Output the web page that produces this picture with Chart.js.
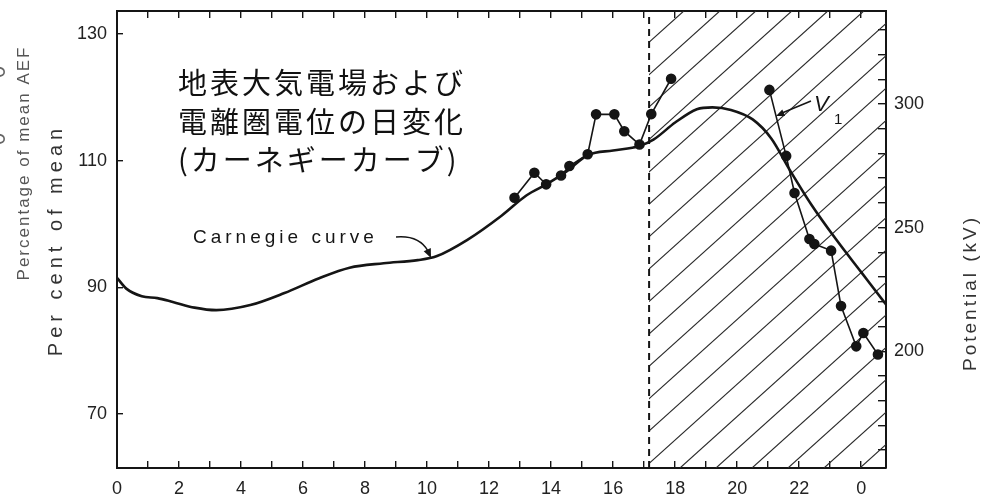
<!DOCTYPE html>
<html>
<head>
<meta charset="utf-8">
<script src="https://cdn.jsdelivr.net/npm/chart.js@4.4.1/dist/chart.umd.min.js"></script>
<style>
  html, body { margin: 0; padding: 0; background: #fff; }
</style>
</head>
<body>
<canvas id="chart" width="983" height="499"></canvas>
<script>
// Carnegie curve, per cent of mean (left axis)
const carnegieHours = [0, 0.3, 0.8, 1.3, 1.8, 2.5, 3.2, 4.3, 5.4, 6.5, 7.5, 8.6, 9.7, 10.3, 11.3, 12.4, 13.2, 13.9, 14.5, 15.2, 16.0, 16.85, 17.3, 18.0, 18.7, 19.2, 19.8, 20.5, 21.1, 21.7, 22.4, 23.2, 24.0, 24.8];
const carnegiePct   = [91.5, 89.8, 88.6, 88.3, 87.7, 86.8, 86.4, 87.2, 89.1, 91.4, 93.1, 93.8, 94.3, 94.9, 97.5, 101.3, 104.5, 106.4, 108.3, 110.9, 111.6, 112.3, 113.3, 116.0, 118.1, 118.4, 118.0, 116.5, 113.5, 108.5, 103.0, 97.5, 92.4, 87.3];

// ionospheric potential V1 (right axis, kV)
const v1MorningHours = [12.82, 13.46, 13.84, 14.32, 14.59, 15.18, 15.45, 16.04, 16.36, 16.85, 17.23, 17.87];
const v1MorningKV    = [262.1, 272.2, 267.5, 271.1, 274.9, 279.7, 295.8, 295.8, 289.0, 283.6, 295.9, 310.2];
const v1EveningHours = [21.04, 21.58, 21.85, 22.33, 22.49, 23.03, 23.35, 23.84, 24.07, 24.54];
const v1EveningKV    = [305.7, 279.0, 264.0, 245.4, 243.4, 240.7, 218.3, 202.0, 207.4, 198.7];

// ticks
const hourTicks = [0, 1, 2, 3, 4, 5, 6, 7, 8, 9, 10, 11, 12, 13, 14, 15, 16, 17, 18, 19, 20, 21, 22, 23, 24];
const pctTicks = [70, 90, 110, 130];
const kvTicks = [160, 170, 180, 190, 200, 210, 220, 230, 240, 250, 260, 270, 280, 290, 300, 310, 320, 330];
const kvLabels = [200, 250, 300];

const nightStart = 17.16;   // dashed line, hatched after it

const ink = '#151515';
const tickFont = { family: 'Liberation Sans', size: 18 };

function pts(xs, ys) {
  return xs.map((x, i) => ({ x: x, y: ys[i] }));
}

// pin an axis box to a fixed size and drop the label overhang padding
function pin(prop, size) {
  return s => {
    s[prop] = size;
    s.paddingTop = 0; s.paddingBottom = 0; s.paddingLeft = 0; s.paddingRight = 0;
  };
}

function arrowHead(ctx, x, y, ang, len) {
  ctx.beginPath();
  ctx.moveTo(x, y);
  ctx.lineTo(x - len * Math.cos(ang - 0.4), y - len * Math.sin(ang - 0.4));
  ctx.lineTo(x - len * Math.cos(ang + 0.4), y - len * Math.sin(ang + 0.4));
  ctx.closePath();
  ctx.fill();
}

function vText(ctx, txt, x, y, font, spacing, color) {
  ctx.save();
  ctx.translate(x, y);
  ctx.rotate(-Math.PI / 2);
  ctx.font = font;
  ctx.letterSpacing = spacing;
  ctx.fillStyle = color;
  ctx.textAlign = 'center';
  ctx.textBaseline = 'middle';
  ctx.fillText(txt, 0, 0);
  ctx.restore();
}

const decor = {
  id: 'decor',
  beforeDatasetsDraw(chart) {
    const { ctx, chartArea: a, scales: { x } } = chart;
    const x0 = x.getPixelForValue(nightStart);
    // hatching
    ctx.save();
    ctx.beginPath();
    ctx.rect(x0, a.top, a.right - x0, a.bottom - a.top);
    ctx.clip();
    ctx.strokeStyle = '#2a2a2a';
    ctx.lineWidth = 1.1;
    const run = (a.bottom - a.top) / 0.9;
    for (let sx = 680 - 36 * 20; sx < a.right + 10; sx += 36) {
      ctx.beginPath();
      ctx.moveTo(sx, a.bottom);
      ctx.lineTo(sx + run, a.top);
      ctx.stroke();
    }
    ctx.restore();
    // dashed boundary
    ctx.save();
    ctx.strokeStyle = ink;
    ctx.lineWidth = 2;
    ctx.setLineDash([7, 5]);
    ctx.beginPath();
    ctx.moveTo(x0, a.bottom);
    ctx.lineTo(x0, a.top);
    ctx.stroke();
    ctx.restore();
  },
  afterDraw(chart) {
    const ctx = chart.ctx;
    // axis titles
    vText(ctx, 'Percentage of mean AEF', 24, 163, '17px "Liberation Sans"', '2px', '#555');
    vText(ctx, 'Per cent of mean', 56, 240, '20px "Liberation Sans"', '5px', '#333');
    vText(ctx, 'Potential (kV)', 971, 293, '19px "Liberation Sans"', '3px', '#333');
    // cropped remnants at the left edge
    vText(ctx, '0', -1, 72, '22px "Liberation Sans"', '0px', '#666');
    vText(ctx, '0', -1, 139, '22px "Liberation Sans"', '0px', '#666');

    // Japanese caption
    ctx.save();
    ctx.font = '29px "Noto Sans CJK JP"';
    ctx.letterSpacing = '3px';
    ctx.fillStyle = '#111';
    ctx.textAlign = 'left';
    ctx.textBaseline = 'middle';
    ctx.fillText('地表大気電場および', 178, 83);
    ctx.fillText('電離圏電位の日変化', 178, 122);
    ctx.fillText('(カーネギーカーブ)', 178, 160);
    ctx.restore();

    // Carnegie curve label + arrow
    ctx.save();
    ctx.font = '19px "Liberation Sans"';
    ctx.letterSpacing = '4px';
    ctx.fillStyle = ink;
    ctx.textAlign = 'left';
    ctx.textBaseline = 'middle';
    ctx.fillText('Carnegie curve', 193, 238);
    ctx.strokeStyle = ink;
    ctx.lineWidth = 1.5;
    ctx.beginPath();
    ctx.moveTo(396, 237);
    ctx.quadraticCurveTo(419, 235, 428, 251);
    ctx.stroke();
    arrowHead(ctx, 431, 258, Math.atan2(18, 8), 10);
    ctx.restore();

    // V1 label + arrow
    ctx.save();
    ctx.fillStyle = ink;
    ctx.font = 'italic 22px "Liberation Sans"';
    ctx.textAlign = 'left';
    ctx.textBaseline = 'middle';
    ctx.fillText('V', 814, 105);
    ctx.font = '15px "Liberation Sans"';
    ctx.fillText('1', 834, 120);
    ctx.strokeStyle = ink;
    ctx.lineWidth = 1.5;
    ctx.beginPath();
    ctx.moveTo(811, 101);
    ctx.lineTo(782, 113);
    ctx.stroke();
    arrowHead(ctx, 776, 116, Math.atan2(14, -34), 9);
    ctx.restore();
  }
};

const lineStyle = {
  borderColor: ink,
  backgroundColor: ink,
  pointBackgroundColor: ink,
  pointBorderColor: ink,
  fill: false
};

new Chart(document.getElementById('chart'), {
  type: 'line',
  data: {
    datasets: [
      Object.assign({
        label: 'Carnegie curve',
        data: pts(carnegieHours, carnegiePct),
        yAxisID: 'y',
        borderWidth: 2.6,
        pointRadius: 0,
        cubicInterpolationMode: 'monotone'
      }, lineStyle),
      Object.assign({
        label: 'V1',
        data: pts(v1MorningHours, v1MorningKV),
        yAxisID: 'y2',
        borderWidth: 1.6,
        pointRadius: 4.5,
        tension: 0
      }, lineStyle),
      Object.assign({
        label: 'V1 (evening)',
        data: pts(v1EveningHours, v1EveningKV),
        yAxisID: 'y2',
        borderWidth: 1.6,
        pointRadius: 4.5,
        tension: 0
      }, lineStyle)
    ]
  },
  options: {
    responsive: false,
    animation: false,
    devicePixelRatio: 1,
    layout: { padding: 0 },
    plugins: {
      legend: { display: false },
      tooltip: { enabled: false }
    },
    scales: {
      x: {
        type: 'linear',
        position: 'bottom',
        min: 0,
        max: 24.8,
        afterBuildTicks: s => { s.ticks = hourTicks.map(v => ({ value: v })); },
        afterFit: pin('height', 31),
        ticks: {
          autoSkip: false,
          maxRotation: 0,
          padding: 17,
          color: '#222',
          font: tickFont,
          callback: v => (v % 2 === 0 ? String(v % 24) : '')
        },
        grid: { drawOnChartArea: false, tickLength: -7, color: ink, lineWidth: 1.4 },
        border: { color: ink, width: 2 }
      },
      xTop: {
        type: 'linear',
        position: 'top',
        min: 0,
        max: 24.8,
        afterBuildTicks: s => { s.ticks = hourTicks.map(v => ({ value: v })); },
        afterFit: pin('height', 11),
        ticks: { display: false },
        grid: { drawOnChartArea: false, tickLength: -7, color: ink, lineWidth: 1.4 },
        border: { color: ink, width: 2 }
      },
      y: {
        type: 'linear',
        position: 'left',
        min: 61.5,
        max: 133.6,
        afterBuildTicks: s => { s.ticks = pctTicks.map(v => ({ value: v })); },
        afterFit: pin('width', 117),
        ticks: { padding: 16, color: '#222', font: tickFont },
        grid: { drawOnChartArea: false, tickLength: -6, color: ink, lineWidth: 1.4 },
        border: { color: ink, width: 2 }
      },
      y2: {
        type: 'linear',
        position: 'right',
        min: 152.8,
        max: 337.6,
        afterBuildTicks: s => { s.ticks = kvTicks.map(v => ({ value: v })); },
        afterFit: pin('width', 97),
        ticks: {
          padding: 16,
          color: '#222',
          font: tickFont,
          callback: v => (kvLabels.includes(v) ? String(v) : '')
        },
        grid: { drawOnChartArea: false, tickLength: -8, color: ink, lineWidth: 1.4 },
        border: { color: ink, width: 2 }
      }
    }
  },
  plugins: [decor]
});
</script>
</body>
</html>
